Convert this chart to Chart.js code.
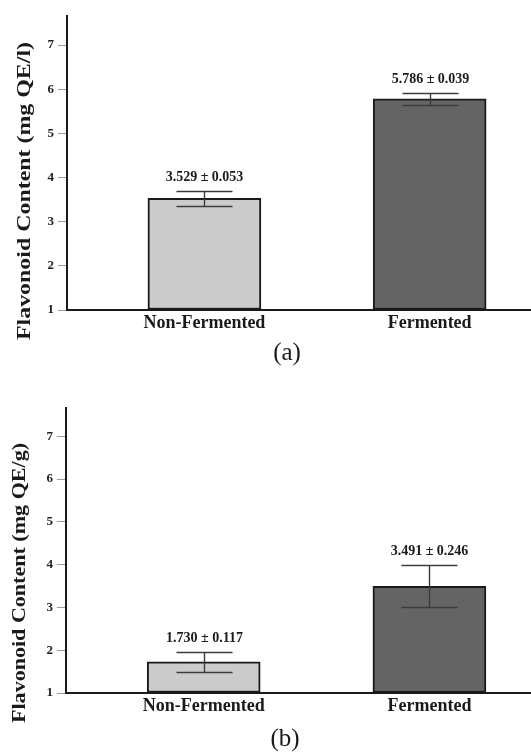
<!DOCTYPE html>
<html>
<head>
<meta charset="utf-8">
<script src="https://cdn.jsdelivr.net/npm/chart.js@4"></script>
<style>
  body { margin: 0; background: #fff; }
  .panel { position: absolute; left: 0; width: 531px; }
</style>
</head>
<body>
<div class="panel" style="top:0;height:370px"><canvas id="chart-a"></canvas></div>
<div class="panel" style="top:370px;height:383px"><canvas id="chart-b"></canvas></div>
<script>
const categories = ['Non-Fermented', 'Fermented'];

// panel (a): per litre
const meansA = [3.529, 5.786];
const errLowA = [3.35, 5.65];
const errHighA = [3.70, 5.925];
const valueTextA = ['3.529 ± 0.053', '5.786 ± 0.039'];

// panel (b): per gram
const meansB = [1.730, 3.491];
const errLowB = [1.49, 3.00];
const errHighB = [1.96, 3.98];
const valueTextB = ['1.730 ± 0.117', '3.491 ± 0.246'];

const yTicks = [1, 2, 3, 4, 5, 6, 7];

const serif = '"Liberation Serif", "Times New Roman", serif';
const ink = '#1a1a1a';

// error bars, value labels, stretched y title and panel letter
const decor = {
  id: 'decor',
  afterDatasetsDraw(chart, args, opts) {
    const { ctx, scales: { x, y } } = chart;
    ctx.save();
    opts.low.forEach((lo, i) => {
      const cx = Math.round(x.getPixelForValue(i)) + 0.5;
      const yl = Math.round(y.getPixelForValue(lo)) + 0.5;
      const yh = Math.round(y.getPixelForValue(opts.high[i])) + 0.5;
      ctx.strokeStyle = '#3c3c3c';
      ctx.lineWidth = 1.4;
      ctx.beginPath();
      ctx.moveTo(cx, yl); ctx.lineTo(cx, yh);
      ctx.moveTo(cx - 28, yl); ctx.lineTo(cx + 28, yl);
      ctx.moveTo(cx - 28, yh); ctx.lineTo(cx + 28, yh);
      ctx.stroke();

      ctx.font = `bold 14px ${serif}`;
      ctx.fillStyle = ink;
      ctx.textAlign = 'center';
      ctx.textBaseline = 'middle';
      ctx.fillText(opts.text[i], cx, yh - 14);
    });

    // y axis title, rotated and stretched to the span seen in the figure
    ctx.save();
    ctx.translate(opts.titleX, opts.titleY);
    ctx.rotate(-Math.PI / 2);
    ctx.font = `bold 18px ${serif}`;
    const w = ctx.measureText(opts.title).width;
    ctx.scale(opts.titleLen / w, 1);
    ctx.fillStyle = ink;
    ctx.textAlign = 'center';
    ctx.textBaseline = 'middle';
    ctx.fillText(opts.title, 0, 0);
    ctx.restore();

    ctx.font = `25px ${serif}`;
    ctx.fillStyle = ink;
    ctx.textAlign = 'center';
    ctx.textBaseline = 'middle';
    ctx.fillText(opts.letter, opts.letterX, opts.letterY);
    ctx.restore();
  }
};

function makeChart(id, means, low, high, texts, setup) {
  new Chart(document.getElementById(id), {
    type: 'bar',
    data: {
      datasets: [{
        data: means.map((m, i) => ({ x: i, y: m })),
        backgroundColor: ['#cbcbcb', '#646464'],
        borderColor: ink,
        borderWidth: 2,
        borderSkipped: false,
        barThickness: 113,
        base: 1
      }]
    },
    options: {
      responsive: true,
      maintainAspectRatio: false,
      animation: false,
      layout: { padding: { top: setup.padTop, left: 0, right: 0, bottom: 0 } },
      plugins: {
        legend: { display: false },
        tooltip: { enabled: false },
        decor: {
          low: low, high: high, text: texts,
          title: setup.title, titleX: setup.titleX, titleY: setup.titleY, titleLen: setup.titleLen,
          letter: setup.letter, letterX: setup.letterX, letterY: setup.letterY
        }
      },
      scales: {
        x: {
          type: 'linear',
          offset: false,
          min: -0.61,
          max: 1.45,
          afterBuildTicks: s => { s.ticks = categories.map((c, i) => ({ value: i })); },
          afterFit: s => { s.height = 60; },
          grid: { display: true, offset: false, drawOnChartArea: false, drawTicks: false },
          border: { color: ink, width: 2 },
          ticks: {
            callback: v => categories[v],
            font: { family: serif, size: 18, weight: 'bold' },
            color: ink,
            padding: 3,
            maxRotation: 0,
            autoSkip: false
          }
        },
        y: {
          min: 1,
          max: 7.66,
          afterBuildTicks: s => { s.ticks = yTicks.map(v => ({ value: v })); },
          afterFit: s => { s.width = setup.axisLeft; },
          grid: { drawOnChartArea: false, tickLength: 9, tickColor: '#9a9a9a', tickWidth: 1 },
          border: { color: ink, width: 2 },
          ticks: {
            font: { family: serif, size: 13, weight: 'bold' },
            color: '#222',
            padding: 4
          }
        }
      }
    },
    plugins: [decor]
  });
}

makeChart('chart-a', meansA, errLowA, errHighA, valueTextA, {
  padTop: 16, axisLeft: 67,
  title: 'Flavonoid Content (mg QE/l)', titleX: 25, titleY: 191, titleLen: 298,
  letter: '(a)', letterX: 287, letterY: 353
});

makeChart('chart-b', meansB, errLowB, errHighB, valueTextB, {
  padTop: 38, axisLeft: 66,
  title: 'Flavonoid Content (mg QE/g)', titleX: 20, titleY: 213, titleLen: 280,
  letter: '(b)', letterX: 285, letterY: 369
});
</script>
</body>
</html>
